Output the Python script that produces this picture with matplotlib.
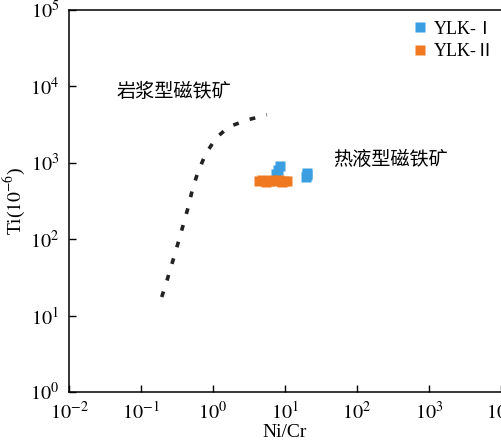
import matplotlib
matplotlib.use("Agg")
import matplotlib.pyplot as plt

plt.rcParams['font.family'] = ['Liberation Serif', 'Noto Sans CJK SC']
plt.rcParams['mathtext.fontset'] = 'stix'

# boundary curve (dashed)
curve_x = [0.194, 0.23, 0.275, 0.327, 0.383, 0.45, 0.52, 0.62, 0.79, 1.1, 1.67, 2.97, 5.6]
curve_y = [17.5, 29, 51, 89, 150, 258, 454, 764, 1300, 2110, 2970, 3630, 4250]

# YLK-I samples
ylk1_x = [7.6, 8.0, 8.4, 19.5, 20.2, 20.5]
ylk1_y = [720, 800, 900, 660, 700, 740]

# YLK-II samples
ylk2_x = [4.3, 4.8, 5.4, 6.0, 6.7, 7.4, 8.2, 9.0, 9.8, 10.6]
ylk2_y = [570, 590, 560, 585, 600, 570, 590, 565, 580, 575]

fig = plt.figure(figsize=(5.02, 4.48), dpi=100)
ax = fig.add_axes([69 / 502, 1 - 392 / 448, 432 / 502, 382 / 448])

ax.plot(curve_x, curve_y, color='#222222', lw=2.6, linestyle=(0, (1.6, 3.2)))
ax.plot(ylk1_x, ylk1_y, 's', color='#3a9ee0', ms=6.5, mec='none', label='YLK-Ⅰ')
ax.plot(ylk2_x, ylk2_y, 's', color='#f07820', ms=6.5, mec='none', label='YLK-Ⅱ')

ax.set_xscale('log')
ax.set_yscale('log')
ax.set_xlim(1e-2, 1e4)
ax.set_ylim(1e0, 1e5)
ax.set_xticks([10.0 ** k for k in range(-2, 5)])
ax.set_yticks([10.0 ** k for k in range(0, 6)])
ax.set_xticklabels([r'$10^{%d}$' % k for k in range(-2, 5)])
ax.set_yticklabels([r'$10^{%d}$' % k for k in range(0, 6)])
ax.minorticks_off()
ax.tick_params(direction='in', length=5, width=1, labelsize=14.5, pad=7)
ax.spines['right'].set_visible(False)
for s in ['left', 'bottom', 'top']:
    ax.spines[s].set_linewidth(1.1)

ax.set_xlabel('Ni/Cr', fontsize=14, labelpad=0)
ax.set_ylabel(r'Ti($10^{-6}$)', fontsize=14, labelpad=2)

ax.text(0.046, 8450, '岩浆型磁铁矿', fontsize=13.8, family=['Noto Sans CJK SC'], va='center')
ax.text(46, 1090, '热液型磁铁矿', fontsize=13.8, family=['Noto Sans CJK SC'], va='center')

ax.legend(loc='upper right', bbox_to_anchor=(1.015, 1.005), frameon=False,
          handlelength=0.7, handletextpad=0.45, borderaxespad=0.3, labelspacing=0.3,
          markerscale=1.2,
          prop={'family': ['Liberation Serif', 'Noto Sans CJK SC'], 'size': 13})

fig.savefig('out.png', dpi=100)
